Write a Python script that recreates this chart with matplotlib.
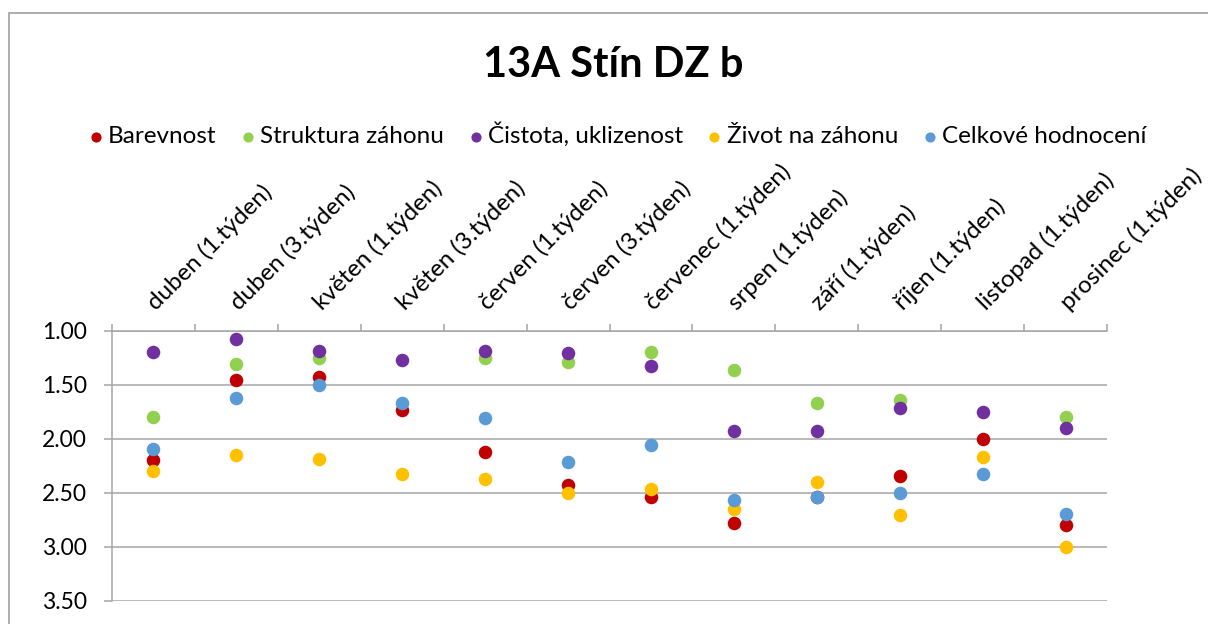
import numpy as np
import matplotlib
matplotlib.use("Agg")
import matplotlib.pyplot as plt
from matplotlib.patches import Rectangle
from matplotlib.transforms import ScaledTranslation

plt.rcParams['font.family'] = ['Lato', 'DejaVu Sans']

## Data

categories = ["duben (1.týden)", "duben (3.týden)", "květen (1.týden)", "květen (3.týden)",
              "červen (1.týden)", "červen (3.týden)", "červenec (1.týden)", "srpen (1.týden)",
              "září (1.týden)", "říjen (1.týden)", "listopad (1.týden)", "prosinec (1.týden)"]

barevnost = [2.20, 1.46, 1.43, 1.73, 2.12, 2.43, 2.54, 2.78, 2.54, 2.35, 2.00, 2.80]
struktura = [1.80, 1.31, 1.25, np.nan, 1.25, 1.29, 1.20, 1.36, 1.67, 1.64, np.nan, 1.80]
cistota = [1.20, 1.08, 1.19, 1.27, 1.19, 1.21, 1.33, 1.93, 1.93, 1.72, 1.75, 1.90]
zivot = [2.30, 2.15, 2.19, 2.33, 2.37, 2.50, 2.47, 2.65, 2.40, 2.71, 2.17, 3.00]
celkove = [2.10, 1.62, 1.50, 1.67, 1.81, 2.22, 2.06, 2.57, 2.54, 2.50, 2.33, 2.70]

series = [("Barevnost", barevnost, "#C00000"),
          ("Struktura záhonu", struktura, "#92D050"),
          ("Čistota, uklizenost", cistota, "#7030A0"),
          ("Život na záhonu", zivot, "#FFC000"),
          ("Celkové hodnocení", celkove, "#5B9BD5")]

## Figure

W, H = 1208, 624
fig = plt.figure(figsize=(W / 100, H / 100), dpi=100)
ax = fig.add_axes([112 / W, 1 - 600.7 / H, (1107 - 112) / W, (600.7 - 330.7) / H])

grey = "#a6a6a6"
x = np.arange(len(categories))
for name, vals, col in series:
    ax.scatter(x, vals, s=95, color=col, label=name, zorder=3, linewidths=0)

ax.set_xlim(-0.5, len(categories) - 0.5)
ax.set_ylim(3.5, 1.0)
ax.set_yticks(np.arange(1.0, 3.51, 0.5))
ax.set_yticklabels(["%.2f" % v for v in np.arange(1.0, 3.51, 0.5)], fontsize=16.5)
ax.yaxis.grid(True, color=grey, linewidth=1.1)
ax.set_axisbelow(True)

for s in ["right", "bottom", "top"]:
    ax.spines[s].set_visible(False)
ax.spines["left"].set_color(grey)
ax.spines["left"].set_linewidth(1.1)
ax.tick_params(axis="y", length=6, color=grey, width=1.1, pad=12)

# category axis at top
ax.xaxis.tick_top()
ax.set_xticks(x)
ax.set_xticklabels(categories, fontsize=17.4, rotation=45, ha="left", va="bottom",
                   rotation_mode="anchor")
ax.set_xticks(np.arange(-0.5, len(categories), 1.0), minor=True)
ax.tick_params(axis="x", which="major", length=0, pad=12)
ax.tick_params(axis="x", which="minor", length=5, color=grey, width=1.1, top=True, bottom=False)
shift = ScaledTranslation(6 / 100, 0, fig.dpi_scale_trans)
for lbl in ax.get_xticklabels():
    lbl.set_transform(lbl.get_transform() + shift)
ax.axhline(1.0, color=grey, linewidth=1.1, clip_on=False, zorder=1)

fig.text(0.508, 1 - 65 / H, "13A Stín DZ b", fontsize=30, fontweight="bold",
         ha="center", va="center")

ax.legend(loc="center", bbox_to_anchor=(0.512, 1 - 135 / H), bbox_transform=fig.transFigure,
          ncol=5, frameon=False, fontsize=17.5, handlelength=0.4, handletextpad=0.3,
          columnspacing=1.1, markerscale=0.75, borderpad=0)

fig.patches.append(Rectangle((9 / W, -0.1), 1.2, 1 - 12.5 / H + 0.1, transform=fig.transFigure,
                             fill=False, edgecolor="#a0a0a0", linewidth=1.2))

fig.savefig("out.png", dpi=100)
